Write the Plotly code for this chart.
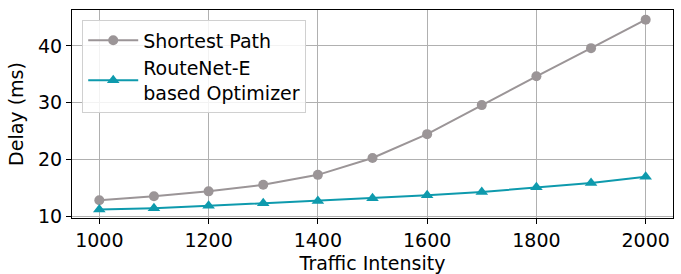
import plotly.graph_objects as go

traffic = [1000, 1100, 1200, 1300, 1400, 1500, 1600, 1700, 1800, 1900, 2000]
shortest_path = [12.9, 13.6, 14.45, 15.6, 17.35, 20.3, 24.5, 29.6, 34.65, 39.6, 44.6]
routenet = [11.25, 11.5, 11.9, 12.35, 12.75, 13.25, 13.75, 14.35, 15.15, 15.9, 17.0]
x_ticks = [1000, 1200, 1400, 1600, 1800, 2000]
y_ticks = [10, 20, 30, 40]

GRAY = "#9b9597"
TEAL = "#0e9aad"
FONT = "DejaVu Sans"
FS = 19

fig = go.Figure()
fig.add_trace(go.Scatter(
    x=traffic, y=shortest_path, mode="lines+markers", name="Shortest Path",
    line=dict(color=GRAY, width=2), marker=dict(symbol="circle", size=10, color=GRAY)))
fig.add_trace(go.Scatter(
    x=traffic, y=routenet, mode="lines+markers", name="RouteNet-E<br>based Optimizer",
    line=dict(color=TEAL, width=2), marker=dict(symbol="triangle-up", size=11, color=TEAL)))

axis_common = dict(
    showgrid=True, gridcolor="#b0b0b0", gridwidth=1,
    showline=True, linecolor="black", linewidth=1, mirror=True,
    ticks="outside", ticklen=5, tickcolor="black", tickwidth=1,
    zeroline=False, tickfont=dict(family=FONT, size=FS, color="black"),
)

fig.update_layout(
    width=681, height=274,
    margin=dict(l=72, r=8, t=10, b=56),
    paper_bgcolor="white", plot_bgcolor="white",
    font=dict(family=FONT, size=FS, color="black"),
    xaxis=dict(range=[950, 2050], tickvals=x_ticks, automargin=False,
               title=dict(text="Traffic Intensity", font=dict(family=FONT, size=FS)),
               **axis_common),
    yaxis=dict(range=[9.77, 46.3], tickvals=y_ticks, automargin=True,
               title=dict(text="Delay (ms)", font=dict(family=FONT, size=FS), standoff=9),
               **axis_common),
    legend=dict(x=0.017, y=0.95, xanchor="left", yanchor="top",
                bgcolor="rgba(255,255,255,0.85)", bordercolor="#d0d0d0", borderwidth=1,
                font=dict(family=FONT, size=FS, color="black"),
                itemwidth=50, tracegroupgap=0),
    showlegend=True,
)

fig.write_html("out.html", config={"displayModeBar": False},
               post_script="document.body.style.margin='0';")
